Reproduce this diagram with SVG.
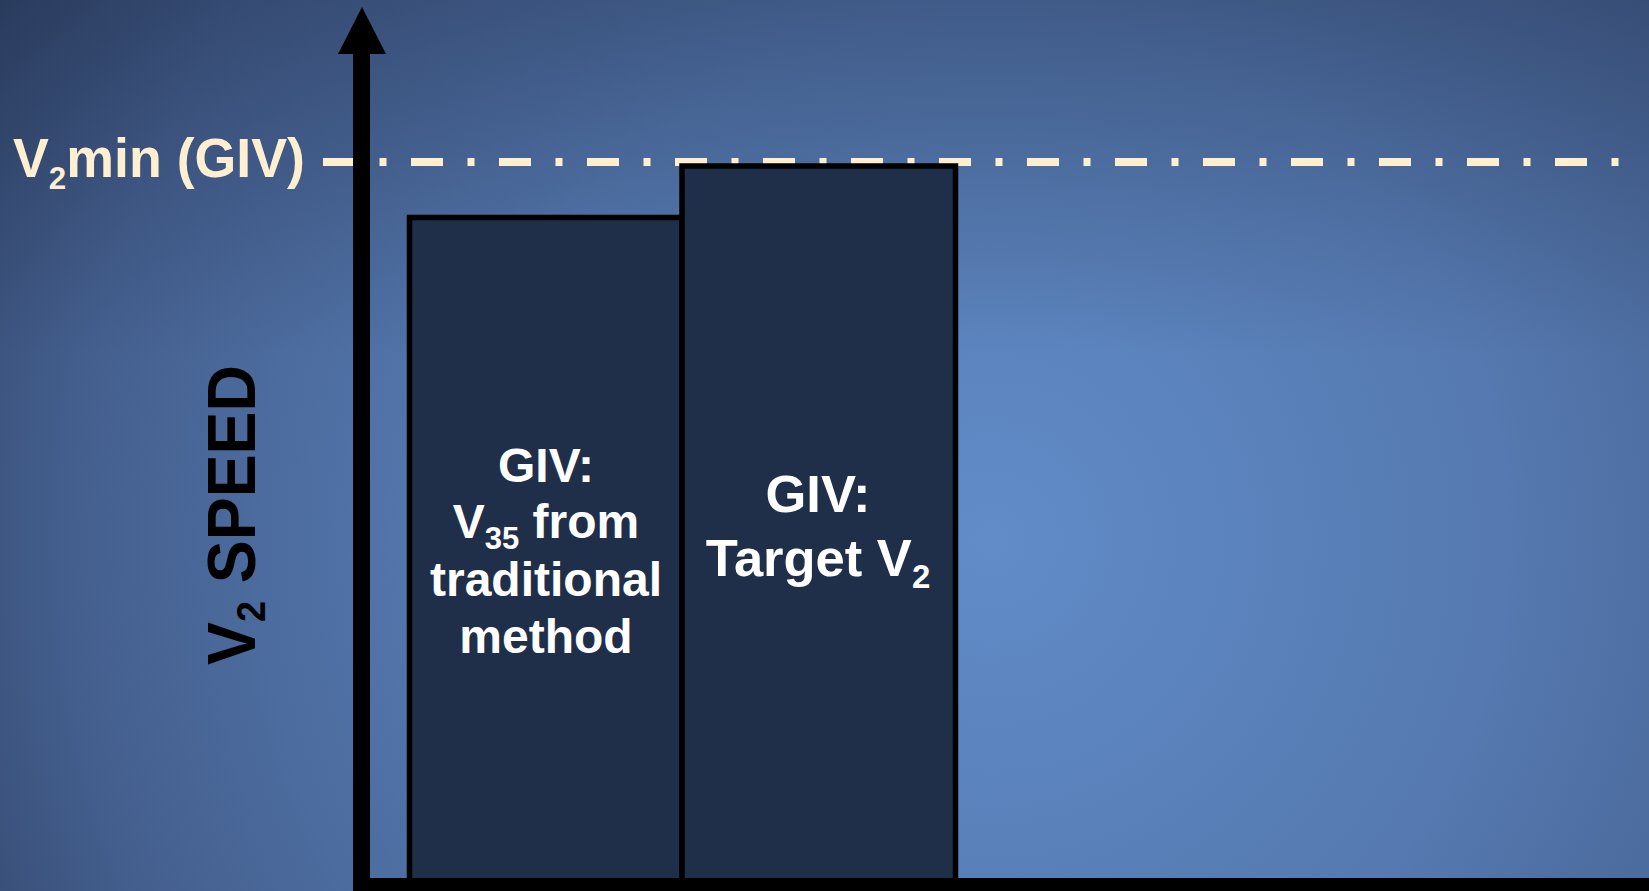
<svg xmlns="http://www.w3.org/2000/svg" width="1649" height="891" viewBox="0 0 1649 891">
  <defs>
    <radialGradient id="bg" gradientUnits="userSpaceOnUse" cx="990" cy="540" r="1150">
      <stop offset="0" stop-color="#618CC8"/>
      <stop offset="0.45" stop-color="#5579B0"/>
      <stop offset="0.8" stop-color="#445F8E"/>
      <stop offset="1" stop-color="#31456A"/>
    </radialGradient>
    <linearGradient id="topshade" x1="0" y1="0" x2="0" y2="1">
      <stop offset="0" stop-color="#1A2540" stop-opacity="0.35"/>
      <stop offset="0.4" stop-color="#1A2540" stop-opacity="0"/>
      <stop offset="1" stop-color="#1A2540" stop-opacity="0"/>
    </linearGradient>
    <style>
      .bar { fill: #1F2F4A; stroke: #000000; stroke-width: 5.5; }
      .bartxt { font-family: "Liberation Sans", Arial, sans-serif; font-weight: bold; fill: #FFFFFF; text-anchor: middle; }
      .cream { fill: #FFEFD1; }
      .axis { fill: #000000; }
    </style>
  </defs>
  <rect x="0" y="0" width="1649" height="891" fill="url(#bg)"/>
  <rect x="0" y="0" width="1649" height="891" fill="url(#topshade)"/>

  <g id="connectors">
    <line id="v2min-line" x1="323" y1="162" x2="1620" y2="162" stroke="#FFEFD1" stroke-width="8" stroke-dasharray="32 24.5 7 24.5"/>
  </g>

  <g id="bar-left">
    <rect class="bar" x="409.5" y="217.5" width="272.5" height="668"/>
    <text class="bartxt" font-size="48" x="546" y="482">GIV:</text>
    <text class="bartxt" font-size="48" x="546" y="538">V<tspan font-size="31" dy="11">35</tspan><tspan dy="-11"> from</tspan></text>
    <text class="bartxt" font-size="48" x="546" y="596">traditional</text>
    <text class="bartxt" font-size="48" x="546" y="653">method</text>
  </g>

  <g id="bar-right">
    <rect class="bar" x="682" y="166" width="273.5" height="720"/>
    <text class="bartxt" font-size="52.5" x="818" y="512">GIV:</text>
    <text class="bartxt" font-size="52.5" x="818" y="576">Target V<tspan font-size="33" dy="12">2</tspan></text>
  </g>

  <g id="axes">
    <rect class="axis" x="353" y="50" width="17" height="841"/>
    <polygon class="axis" points="338,54 362,7 386,54"/>
    <rect class="axis" x="353" y="878" width="1296" height="13"/>
  </g>

  <g id="label-v2min">
    <text class="cream" font-family="Liberation Sans, Arial, sans-serif" font-weight="bold" font-size="55" x="13" y="177" textLength="292" lengthAdjust="spacingAndGlyphs">V<tspan font-size="32" dy="12">2</tspan><tspan dy="-12">min (GIV)</tspan></text>
  </g>

  <g id="label-yaxis">
    <text transform="translate(255,665) rotate(-90)" font-family="Liberation Sans, Arial, sans-serif" font-weight="bold" font-size="68" fill="#000000" x="0" y="0" textLength="300" lengthAdjust="spacingAndGlyphs">V<tspan font-size="40" dy="10">2</tspan><tspan dy="-10"> SPEED</tspan></text>
  </g>
</svg>
